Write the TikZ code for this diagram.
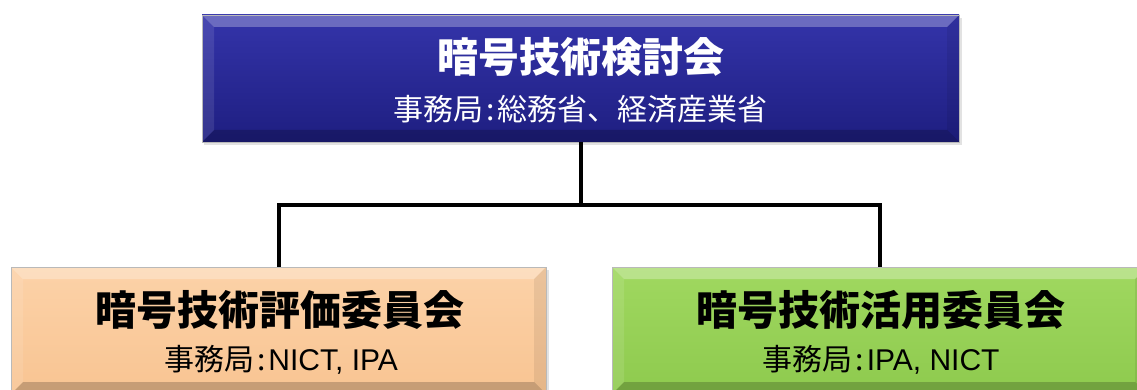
\documentclass[tikz,border=0pt]{standalone}
\usepackage{fontspec}
\newfontfamily\jp{Noto Sans CJK JP}
\newfontfamily\lat{Liberation Sans}
\newcommand{\colonsp}{\hspace{3pt}:\hspace{3pt}}
\definecolor{navyA}{RGB}{52,52,170}
\definecolor{navyB}{RGB}{30,30,128}
\definecolor{peachA}{RGB}{252,210,168}
\definecolor{peachB}{RGB}{248,196,146}
\definecolor{greenA}{RGB}{160,216,96}
\definecolor{greenB}{RGB}{142,202,78}
\tikzset{
  panel/.style={rectangle, inner sep=0pt, draw=gray!55, line width=0.8pt,
    path picture={
      \fill[white,opacity=0.28] (path picture bounding box.north west) -- (path picture bounding box.north east)
        -- ([xshift=-12pt,yshift=-12pt]path picture bounding box.north east) -- ([xshift=12pt,yshift=-12pt]path picture bounding box.north west) -- cycle;
      \fill[white,opacity=0.10] (path picture bounding box.north west) -- ([xshift=12pt,yshift=-12pt]path picture bounding box.north west)
        -- ([xshift=12pt,yshift=12pt]path picture bounding box.south west) -- (path picture bounding box.south west) -- cycle;
      \fill[black,opacity=0.07] (path picture bounding box.north east) -- ([xshift=-12pt,yshift=-12pt]path picture bounding box.north east)
        -- ([xshift=-12pt,yshift=12pt]path picture bounding box.south east) -- (path picture bounding box.south east) -- cycle;
      \fill[black,opacity=0.20] (path picture bounding box.south west) -- (path picture bounding box.south east)
        -- ([xshift=-12pt,yshift=12pt]path picture bounding box.south east) -- ([xshift=12pt,yshift=12pt]path picture bounding box.south west) -- cycle;
    }},
  topbox/.style={panel, top color=navyA, bottom color=navyB, minimum width=757pt, minimum height=127pt},
  subbox/.style={panel, minimum width=535pt, minimum height=127pt},
  title/.style={font=\jp\bfseries\fontsize{41}{41}\selectfont, inner sep=0pt},
  sub/.style={font=\jp\fontsize{30}{30}\selectfont, inner sep=0pt},
  conn/.style={line width=4pt, black}
}
\begin{document}
\begin{tikzpicture}[x=1pt,y=-1pt]
\useasboundingbox (0,0) rectangle (1137,390);
\clip (0,0) rectangle (1137,390);
% shadows
\fill[gray!45,opacity=0.5] (204,18) rectangle (962,145);
\fill[gray!45,opacity=0.5] (13,270) rectangle (549,400);
\fill[gray!45,opacity=0.5] (614,270) rectangle (1150,400);
% boxes
\node[topbox] (top) at (580.5,78.5) {};
\node[subbox, top color=peachA, bottom color=peachB] (left) at (278.5,330.5) {};
\node[subbox, top color=greenA, bottom color=greenB] (right) at (879.5,330.5) {};
% texts
\node[title, text=white] (toptitle) at (580.5,57) {暗号技術検討会};
\node[sub, text=white] (topsub) at (580.5,109) {事務局\colonsp 総務省、経済産業省};
\node[title] (lefttitle) at (280,310) {暗号技術評価委員会};
\node[sub] (leftsub) at (281,360) {事務局\colonsp{\lat NICT, IPA}};
\node[title] (righttitle) at (881,310) {暗号技術活用委員会};
\node[sub] (rightsub) at (881,360) {事務局\colonsp{\lat IPA, NICT}};
% connectors
\coordinate (j) at (580.5,205);
\draw[conn] (top.south) -- (j);
\draw[conn] (left.north) |- (j) -| (right.north);
\end{tikzpicture}
\end{document}
